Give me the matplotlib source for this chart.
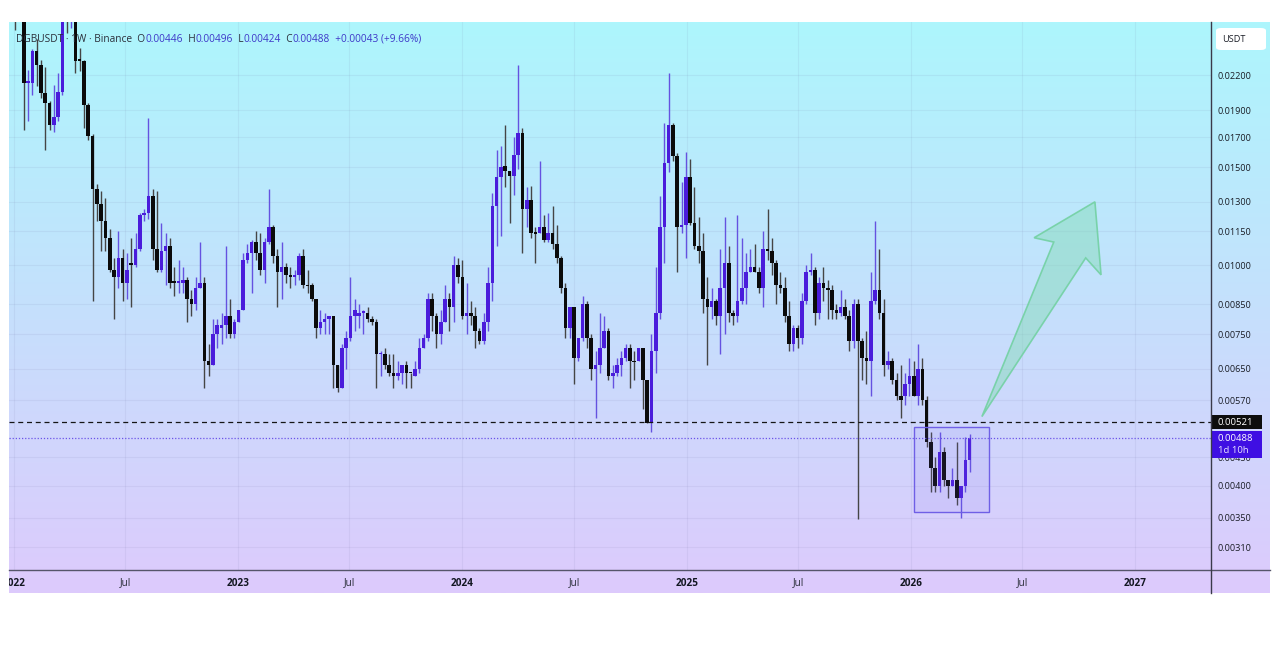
import numpy as np
import pandas as pd
import matplotlib
matplotlib.use("Agg")
import matplotlib.pyplot as plt
import matplotlib.dates as mdates
from matplotlib.patches import Rectangle, Polygon, FancyBboxPatch
from matplotlib.lines import Line2D

plt.rcParams['font.family'] = ['Open Sans', 'DejaVu Sans']

# ---------------- data (weekly DGBUSDT, Binance) ----------------
first_week = "2022-01-03"
opens = [0.0300, 0.0290, 0.0300, 0.0213, 0.0213, 0.0243, 0.0229, 0.0204, 0.0196, 0.0179,
         0.0185, 0.0205, 0.0310, 0.0290, 0.0300, 0.0235, 0.0233, 0.0194, 0.0171, 0.0137,
         0.0129, 0.0120, 0.0112, 0.0098, 0.0095, 0.0103, 0.0093, 0.0101, 0.0100, 0.0107,
         0.0123, 0.0124, 0.0133, 0.0107, 0.0098, 0.0106, 0.0108, 0.00935, 0.0093, 0.0093,
         0.0094, 0.0087, 0.0085, 0.0091, 0.0093, 0.0067, 0.0066, 0.0075, 0.0077, 0.0078,
         0.0081, 0.0075, 0.0079, 0.0083, 0.0102, 0.0105, 0.0110, 0.0105, 0.0098, 0.0110,
         0.0117, 0.0104, 0.0097, 0.0099, 0.0096, 0.0095, 0.0096, 0.0104, 0.0092, 0.0092,
         0.0087, 0.0077, 0.0079, 0.0080, 0.0081, 0.0066, 0.0060, 0.0071, 0.0074, 0.0081,
         0.0081, 0.0082, 0.0082, 0.0080, 0.0079, 0.0069, 0.0069, 0.0066, 0.0064, 0.0063,
         0.0064, 0.0066, 0.0064, 0.0063, 0.0065, 0.0071, 0.0074, 0.0087, 0.0081, 0.0075,
         0.0079, 0.0087, 0.0084, 0.0100, 0.0095, 0.0081, 0.0082, 0.0081, 0.0076, 0.0073,
         0.0079, 0.0093, 0.0128, 0.0144, 0.0151, 0.0148, 0.0145, 0.0158, 0.0173, 0.0126,
         0.0131, 0.0114, 0.0114, 0.0117, 0.0111, 0.0114, 0.0109, 0.0103, 0.0091, 0.0077,
         0.0084, 0.0068, 0.0074, 0.0085, 0.0074, 0.0065, 0.0066, 0.0071, 0.0076, 0.0063,
         0.0064, 0.0066, 0.0068, 0.0071, 0.0067, 0.0067, 0.0071, 0.0062, 0.0052, 0.0070,
         0.0082, 0.0117, 0.0153, 0.0179, 0.0157, 0.0117, 0.0118, 0.0144, 0.0119, 0.0108,
         0.0106, 0.0087, 0.0084, 0.0086, 0.0081, 0.0091, 0.0101, 0.0082, 0.0081, 0.0086,
         0.0091, 0.0097, 0.0099, 0.0097, 0.0091, 0.0107, 0.0106, 0.0101, 0.0092, 0.0091,
         0.0081, 0.0072, 0.0077, 0.0074, 0.0086, 0.0097, 0.0098, 0.0082, 0.0093, 0.0091,
         0.0090, 0.0083, 0.0082, 0.0084, 0.0081, 0.0073, 0.0085, 0.0073, 0.0068, 0.0067,
         0.0086, 0.0090, 0.0082, 0.0066, 0.0067, 0.0062, 0.0058, 0.0058, 0.0061, 0.0063,
         0.0058, 0.0065, 0.0057, 0.0048, 0.0043, 0.0040, 0.0046, 0.0041, 0.0040, 0.0041,
         0.0038, 0.0040, 0.00446]
highs = [0.0330, 0.0320, 0.0310, 0.0225, 0.0245, 0.0256, 0.0234, 0.0228, 0.0198, 0.0211,
         0.0222, 0.0330, 0.0340, 0.0320, 0.0310, 0.0246, 0.0234, 0.0196, 0.0172, 0.0140,
         0.0136, 0.0132, 0.0116, 0.0103, 0.0115, 0.0107, 0.0105, 0.0112, 0.0114, 0.0124,
         0.0126, 0.0184, 0.0137, 0.0136, 0.0119, 0.0114, 0.0112, 0.0099, 0.0102, 0.0099,
         0.0095, 0.0090, 0.0095, 0.0110, 0.0095, 0.0072, 0.0080, 0.0080, 0.0082, 0.0108,
         0.0087, 0.0080, 0.0083, 0.0105, 0.0109, 0.0111, 0.0115, 0.0114, 0.0112, 0.0137,
         0.0118, 0.0107, 0.0110, 0.0101, 0.0099, 0.0098, 0.0105, 0.0107, 0.0098, 0.0093,
         0.0087, 0.0083, 0.0082, 0.0081, 0.0081, 0.0066, 0.0072, 0.0076, 0.0095, 0.0087,
         0.0085, 0.0083, 0.0084, 0.0081, 0.0080, 0.0070, 0.0071, 0.0069, 0.0069, 0.0067,
         0.0066, 0.0067, 0.0064, 0.0067, 0.0074, 0.0075, 0.0089, 0.0089, 0.0082, 0.0083,
         0.0092, 0.0089, 0.0104, 0.0103, 0.0102, 0.0093, 0.0086, 0.0084, 0.0077, 0.0082,
         0.0099, 0.0135, 0.0161, 0.0164, 0.0179, 0.0148, 0.0170, 0.0229, 0.0177, 0.0138,
         0.0139, 0.0117, 0.0154, 0.0123, 0.0124, 0.0128, 0.0118, 0.0104, 0.0093, 0.0084,
         0.0084, 0.0074, 0.0088, 0.0086, 0.0075, 0.0070, 0.0082, 0.0081, 0.0077, 0.0066,
         0.0068, 0.0070, 0.0072, 0.0072, 0.0070, 0.0071, 0.0071, 0.0062, 0.0075, 0.0099,
         0.0133, 0.0180, 0.0222, 0.0180, 0.0159, 0.0141, 0.0160, 0.0155, 0.0138, 0.0122,
         0.0114, 0.0095, 0.0091, 0.0087, 0.0107, 0.0122, 0.0108, 0.0083, 0.0123, 0.0112,
         0.0105, 0.0107, 0.0109, 0.0099, 0.0115, 0.0126, 0.0112, 0.0102, 0.0097, 0.0095,
         0.0086, 0.0078, 0.0078, 0.0089, 0.0100, 0.0105, 0.0099, 0.0095, 0.0099, 0.0094,
         0.0092, 0.0085, 0.0090, 0.0087, 0.0083, 0.0087, 0.0087, 0.0074, 0.0076, 0.0097,
         0.0120, 0.0107, 0.0087, 0.0070, 0.0068, 0.0064, 0.0066, 0.0064, 0.0068, 0.0067,
         0.0072, 0.0068, 0.0058, 0.0050, 0.0045, 0.0050, 0.0047, 0.0041, 0.0043, 0.0048,
         0.0040, 0.0049, 0.00496]
lows = [0.0265, 0.0285, 0.0175, 0.0182, 0.0203, 0.0210, 0.0200, 0.0161, 0.0175, 0.0174,
        0.0182, 0.0203, 0.0262, 0.0268, 0.0222, 0.0224, 0.0177, 0.0168, 0.0086, 0.0120,
        0.0106, 0.0106, 0.0097, 0.0080, 0.0091, 0.0086, 0.0087, 0.0084, 0.0099, 0.0106,
        0.0120, 0.0121, 0.0102, 0.0097, 0.0097, 0.0092, 0.0091, 0.0088, 0.0089, 0.0089,
        0.0079, 0.0081, 0.0083, 0.0091, 0.0060, 0.0063, 0.0066, 0.0071, 0.0072, 0.0074,
        0.0074, 0.0074, 0.0079, 0.0083, 0.0101, 0.0089, 0.0102, 0.0096, 0.0093, 0.0109,
        0.0101, 0.0084, 0.0087, 0.0093, 0.0091, 0.0092, 0.0094, 0.0091, 0.0089, 0.0086,
        0.0074, 0.0075, 0.0075, 0.0075, 0.0060, 0.0059, 0.0060, 0.0065, 0.0073, 0.0076,
        0.0077, 0.0075, 0.0079, 0.0078, 0.0060, 0.0063, 0.0065, 0.0063, 0.0060, 0.0062,
        0.0061, 0.0060, 0.0060, 0.0063, 0.0064, 0.0071, 0.0073, 0.0076, 0.0071, 0.0072,
        0.0079, 0.0076, 0.0079, 0.0093, 0.0080, 0.0075, 0.0078, 0.0071, 0.0072, 0.0072,
        0.0076, 0.0086, 0.0108, 0.0113, 0.0138, 0.0119, 0.0134, 0.0149, 0.0105, 0.0117,
        0.0112, 0.0101, 0.0114, 0.0110, 0.0110, 0.0107, 0.0101, 0.0089, 0.0074, 0.0074,
        0.0061, 0.0067, 0.0073, 0.0071, 0.0062, 0.0053, 0.0064, 0.0071, 0.0062, 0.0060,
        0.0063, 0.0063, 0.0067, 0.0060, 0.0062, 0.0067, 0.0055, 0.0052, 0.0050, 0.0064,
        0.0080, 0.0101, 0.0147, 0.0154, 0.0097, 0.0114, 0.0103, 0.0118, 0.0107, 0.0101,
        0.0082, 0.0066, 0.0080, 0.0078, 0.0069, 0.0075, 0.0079, 0.0078, 0.0079, 0.0085,
        0.0085, 0.0097, 0.0097, 0.0089, 0.0084, 0.0102, 0.0096, 0.0085, 0.0089, 0.0079,
        0.0070, 0.0070, 0.0071, 0.0072, 0.0085, 0.0096, 0.0078, 0.0080, 0.0086, 0.0080,
        0.0080, 0.0080, 0.0081, 0.0080, 0.0070, 0.0071, 0.00348, 0.0062, 0.0061, 0.0058,
        0.0085, 0.0080, 0.0063, 0.0065, 0.0061, 0.0057, 0.0053, 0.0056, 0.0058, 0.0058,
        0.0056, 0.0056, 0.0047, 0.0039, 0.0039, 0.0039, 0.0040, 0.0038, 0.0040, 0.0037,
        0.0035, 0.0039, 0.00424]
closes = [0.0290, 0.0300, 0.0213, 0.0215, 0.0243, 0.0229, 0.0204, 0.0196, 0.0179, 0.0185,
          0.0205, 0.0310, 0.0290, 0.0300, 0.0233, 0.0233, 0.0194, 0.0171, 0.0137, 0.0129,
          0.0120, 0.0112, 0.0098, 0.0095, 0.0103, 0.0093, 0.0098, 0.0100, 0.0107, 0.0123,
          0.0124, 0.0133, 0.0107, 0.0098, 0.0106, 0.0108, 0.0093, 0.0093, 0.00935, 0.0094,
          0.0087, 0.0085, 0.0091, 0.0093, 0.0067, 0.0066, 0.0075, 0.0078, 0.0078, 0.0081,
          0.0075, 0.0079, 0.0083, 0.0102, 0.0105, 0.0110, 0.0105, 0.0098, 0.0110, 0.0117,
          0.0104, 0.0097, 0.0099, 0.0096, 0.0095, 0.0096, 0.0104, 0.0092, 0.00915, 0.0087,
          0.0077, 0.0079, 0.0080, 0.0081, 0.0066, 0.0060, 0.0071, 0.0074, 0.0081, 0.0083,
          0.0082, 0.00822, 0.0080, 0.0079, 0.0069, 0.00693, 0.0066, 0.0064, 0.0063, 0.0064,
          0.0066, 0.0064, 0.00638, 0.0065, 0.0071, 0.0074, 0.0087, 0.0081, 0.0075, 0.0079,
          0.0087, 0.0084, 0.0100, 0.0095, 0.0081, 0.0082, 0.0081, 0.0076, 0.0073, 0.0079,
          0.0093, 0.0128, 0.0144, 0.0150, 0.0148, 0.0145, 0.0158, 0.0173, 0.0126, 0.0131,
          0.0114, 0.01138, 0.0117, 0.0111, 0.0114, 0.0109, 0.0103, 0.0091, 0.0077, 0.0084,
          0.0068, 0.0074, 0.0085, 0.0074, 0.0065, 0.0066, 0.0071, 0.0076, 0.0063, 0.0064,
          0.0066, 0.0068, 0.0071, 0.0067, 0.00668, 0.0071, 0.0062, 0.0052, 0.0070, 0.0082,
          0.0117, 0.0153, 0.0179, 0.0157, 0.0117, 0.0118, 0.0144, 0.0119, 0.0108, 0.0106,
          0.0087, 0.0084, 0.0086, 0.0081, 0.0091, 0.0101, 0.0082, 0.0081, 0.0086, 0.0091,
          0.0097, 0.0099, 0.0097, 0.0091, 0.0107, 0.0106, 0.0101, 0.0092, 0.0091, 0.0081,
          0.0072, 0.0077, 0.0074, 0.0086, 0.0097, 0.0098, 0.0082, 0.0093, 0.0091, 0.0090,
          0.0083, 0.0082, 0.0084, 0.0081, 0.0073, 0.0085, 0.0073, 0.0068, 0.0067, 0.0086,
          0.0090, 0.0082, 0.0066, 0.0067, 0.0062, 0.0058, 0.0057, 0.0061, 0.0063, 0.0058,
          0.0065, 0.0057, 0.0048, 0.0043, 0.0040, 0.0046, 0.0041, 0.0040, 0.0041, 0.0038,
          0.0040, 0.00445, 0.00488]

price_ticks = [0.022, 0.019, 0.017, 0.015, 0.013, 0.0115, 0.010, 0.0085, 0.0075,
               0.0065, 0.0057, 0.0045, 0.0040, 0.0035, 0.0031]
y_limits = (0.002819, 0.02743)
x_limits = ("2021-12-24", "2027-05-04")
time_ticks = ["2022-01-01", "2022-07-01", "2023-01-01", "2023-07-01", "2024-01-01",
              "2024-07-01", "2025-01-01", "2025-07-01", "2026-01-01", "2026-07-01",
              "2027-01-01"]
time_labels = ["2022", "Jul", "2023", "Jul", "2024", "Jul", "2025", "Jul", "2026", "Jul", "2027"]

level_price = 0.00521
last_price = 0.00488
countdown = "1d 10h"
header_parts = [("DGBUSDT · 1W · Binance", "dark"), ("  O", "dark"), ("0.00446", "val"),
                ("  H", "dark"), ("0.00496", "val"), ("  L", "dark"), ("0.00424", "val"),
                ("  C", "dark"), ("0.00488", "val"), ("  +0.00043 (+9.66%)", "val")]

# annotation drawings
box_dates = ("2026-01-05", "2026-05-07")
box_prices = (0.00358, 0.00511)
arrow_dates = ["2026-04-26", "2026-08-21", "2026-07-20", "2026-10-27", "2026-11-06", "2026-10-12"]
arrow_prices = [0.00533, 0.0110, 0.0112, 0.0130, 0.0096, 0.0103]

# ---------------- figure ----------------
W, H = 1280, 648
fig = plt.figure(figsize=(W / 100, H / 100), dpi=100, facecolor="white")

def fx(px):
    return px / W

def fy(py):
    return 1 - py / H

# gradient panel
pl, pr, pt, pb = 9, 1270, 22, 593
bg = fig.add_axes([fx(pl), fy(pb), fx(pr - pl), (pb - pt) / H], zorder=-5)
top_c = np.array([173, 246, 253]) / 255
bot_c = np.array([221, 202, 252]) / 255
t = np.linspace(0, 1, 400)[:, None, None]
grad = top_c[None, None, :] * (1 - t) + bot_c[None, None, :] * t
bg.imshow(grad, aspect="auto", extent=[0, 1, 0, 1], interpolation="bilinear")
bg.set_axis_off()

# main plot area
al, ar, at, ab = 9, 1211, 22, 570
ax = fig.add_axes([fx(al), fy(ab), fx(ar - al), (ab - at) / H])
ax.set_facecolor("none")
ax.set_yscale("log")
ax.set_ylim(*y_limits)
ax.set_xlim(mdates.date2num(pd.Timestamp(x_limits[0])), mdates.date2num(pd.Timestamp(x_limits[1])))
for s in ax.spines.values():
    s.set_visible(False)

# grid
grid_c = (0.42, 0.42, 0.62, 0.09)
for tk in time_ticks:
    ax.axvline(mdates.date2num(pd.Timestamp(tk)), color=grid_c, lw=0.8, zorder=0)
for p in price_ticks:
    ax.axhline(p, color=grid_c, lw=0.8, zorder=0)

# candles
dates = pd.date_range(first_week, periods=len(closes), freq="7D")
x = mdates.date2num(dates)
O = np.array(opens); Hh = np.array(highs); L = np.array(lows); C = np.array(closes)
up = C >= O
up_body, dn_body = "#4a1cdb", "#0b0b0b"
up_wick, dn_wick = "#6552e0", "#454545"
ax.vlines(x, L, Hh, colors=[up_wick if u else dn_wick for u in up], lw=1.0, zorder=2)
bot = np.minimum(O, C)
top = np.maximum(np.maximum(O, C), bot * 1.007)
ax.bar(x, top - bot, bottom=bot, width=5.8, color=[up_body if u else dn_body for u in up],
       linewidth=0, zorder=3)

# horizontal level lines
ax.axhline(level_price, color="#151515", lw=0.9, ls=(0, (4, 3)), zorder=4)
ax.axhline(last_price, color="#6a55e8", lw=0.9, ls=(0, (1, 1.5)), zorder=4)

# rectangle around recent candles
bx0, bx1 = [mdates.date2num(pd.Timestamp(d)) for d in box_dates]
ax.add_patch(Rectangle((bx0, box_prices[0]), bx1 - bx0, box_prices[1] - box_prices[0],
                       facecolor=(0.50, 0.42, 0.95, 0.10), edgecolor="#6f5fe6", lw=1.0, zorder=5))

# arrow
arr = np.column_stack([[mdates.date2num(pd.Timestamp(d)) for d in arrow_dates], arrow_prices])
ax.add_patch(Polygon(arr, closed=True, facecolor=(0.50, 0.86, 0.70, 0.45),
                     edgecolor=(0.45, 0.82, 0.64, 0.9), lw=1.2, zorder=5))

# price axis labels
ax.yaxis.tick_right()
ax.set_yticks(price_ticks)
ax.set_yticklabels([f"{p:.5f}" for p in price_ticks])
ax.yaxis.set_minor_locator(matplotlib.ticker.NullLocator())
ax.tick_params(axis="y", length=0, pad=4.5, labelsize=6.6, labelcolor="#1a1d26")
ax.set_xticks([])

# time axis labels (clipped by the panel)
for tk, lb in zip(time_ticks, time_labels):
    xv = mdates.date2num(pd.Timestamp(tk))
    px = ax.transData.transform((xv, 0.005))[0]
    txt = fig.text(px / W, fy(583), lb, ha="center", va="center", fontsize=7.2,
                   fontweight="bold" if lb != "Jul" else "normal",
                   color="#131722" if lb != "Jul" else "#2a2e39")
    txt.set_clip_box(bg.bbox)
    txt.set_clip_on(True)

# frame lines
fig.add_artist(Line2D([fx(pl), fx(pr)], [fy(570), fy(570)], color="#55556a", lw=1.0))
fig.add_artist(Line2D([fx(1211), fx(1211)], [fy(pt), fy(pb)], color="#3a3a4a", lw=1.0))

# USDT box
fig.add_artist(FancyBboxPatch((fx(1216), fy(50)), fx(50), 22 / H,
                              boxstyle="round,pad=0,rounding_size=0.004",
                              facecolor="white", edgecolor="none"))
fig.text(fx(1222), fy(39), "USDT", ha="left", va="center", fontsize=6.6, color="#1a1d26")

# price tags
ly = H - ax.transData.transform((x[0], level_price))[1]
fig.add_artist(Rectangle((fx(1212), fy(ly + 7)), fx(50), 14 / H, facecolor="#0d0d0d",
                         edgecolor="none"))
fig.text(fx(1218), fy(ly), f"{level_price:.5f}", ha="left", va="center", fontsize=6.8,
         color="white")
cy = H - ax.transData.transform((x[0], last_price))[1]
fig.add_artist(Rectangle((fx(1212), fy(cy + 20)), fx(50), 27 / H, facecolor="#3f0fe3",
                         edgecolor="none"))
fig.text(fx(1218), fy(cy + 1), f"{last_price:.5f}", ha="left", va="center", fontsize=6.8,
         color="white")
fig.text(fx(1218), fy(cy + 13), countdown, ha="left", va="center", fontsize=6.8,
         color="#e8e4ff")

# header: pieces placed on a common baseline
colors = {"dark": "#2a2e39", "val": "#3d37c8"}
renderer = fig.canvas.get_renderer()
cur_x = 16
for s, c in header_parts:
    tx = fig.text(fx(cur_x), fy(41.5), s, ha="left", va="baseline", fontsize=7.3,
                  color=colors[c], zorder=10)
    cur_x += tx.get_window_extent(renderer=renderer).width

fig.savefig("out.png", dpi=100, facecolor="white")
